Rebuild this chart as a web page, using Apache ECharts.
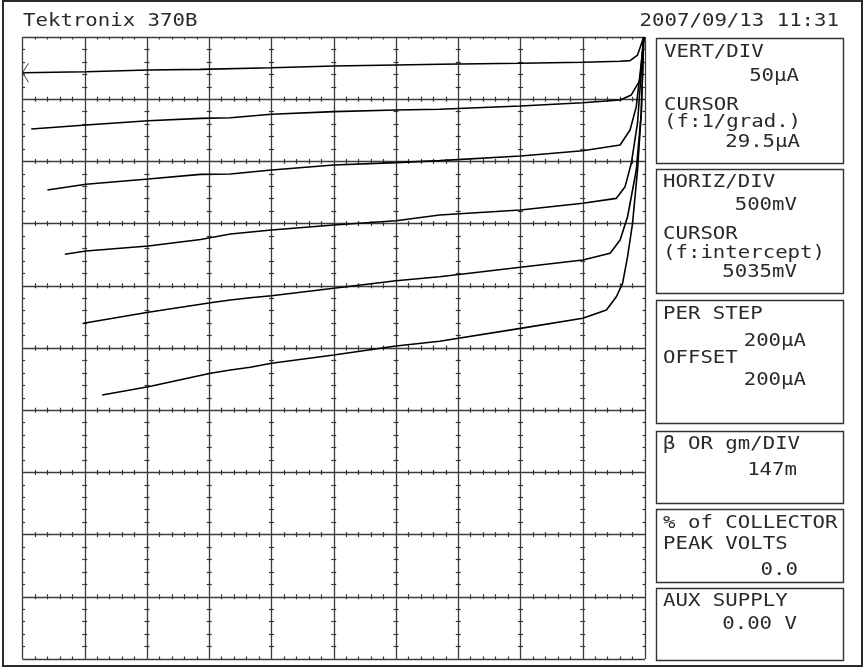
<!DOCTYPE html>
<html><head><meta charset="utf-8">
<script src="https://cdn.jsdelivr.net/npm/echarts@6/dist/echarts.min.js"></script>
<style>html,body{margin:0;padding:0;background:#fff}#c{width:864px;height:672px}</style>
</head><body><div id="c"></div>
<script>
const instrumentName = 'Tektronix 370B';
const timestamp = '2007/09/13 11:31';
// axis: horizontal in V (500 mV/div), vertical in µA (50 µA/div), 10 x 10 divisions
const xMin = 0, xMax = 5, xInterval = 0.5;
const yMin = 0, yMax = 500, yInterval = 50;

const curve1V = [0.00, 0.51, 1.01, 1.43, 2.00, 2.50, 3.00, 3.35, 4.00, 4.50, 4.80, 4.88, 4.94, 4.99];
const curve1I = [471.3, 472.1, 473.5, 474.0, 475.3, 476.7, 477.5, 478.1, 478.9, 479.7, 480.5, 481.0, 485.5, 500];

const curve2V = [0.07, 0.51, 1.01, 1.43, 1.67, 2.00, 2.50, 3.00, 3.35, 4.00, 4.50, 4.80, 4.89, 4.96, 4.99];
const curve2I = [426.0, 429.3, 432.7, 434.6, 435.1, 437.9, 440.0, 441.3, 441.9, 444.5, 447.2, 449.3, 453.4, 465.4, 500];

const curve3V = [0.20, 0.51, 1.01, 1.43, 1.67, 2.00, 2.50, 3.00, 3.35, 4.00, 4.50, 4.80, 4.88, 4.93, 4.97, 4.99];
const curve3I = [377.0, 381.6, 385.9, 389.6, 389.9, 393.1, 397.1, 399.0, 400.6, 404.3, 408.6, 413.2, 425.2, 444.0, 479.1, 500];

const curve4V = [0.34, 0.51, 1.01, 1.43, 1.67, 2.00, 2.50, 3.00, 3.35, 4.00, 4.50, 4.77, 4.84, 4.89, 4.94, 4.99];
const curve4I = [325.3, 328.0, 332.0, 337.2, 341.6, 344.8, 348.9, 352.3, 356.9, 360.9, 366.3, 370.3, 379.7, 398.5, 430.9, 500];

const curve5V = [0.49, 1.01, 1.51, 1.67, 1.83, 2.00, 2.50, 3.00, 3.35, 4.00, 4.50, 4.72, 4.80, 4.86, 4.93, 4.97, 4.99];
const curve5I = [269.9, 278.7, 286.4, 288.6, 290.4, 292.0, 298.0, 304.1, 307.3, 314.9, 320.7, 326.1, 336.8, 355.5, 393.1, 438.9, 500];

const curve6V = [0.64, 1.01, 1.51, 1.67, 1.83, 2.00, 2.50, 3.00, 3.35, 4.00, 4.50, 4.69, 4.77, 4.82, 4.86, 4.90, 4.94, 4.97, 4.99];
const curve6I = [212.2, 218.9, 229.7, 232.3, 234.5, 237.7, 244.4, 251.6, 255.4, 265.8, 273.9, 280.5, 291.2, 302.0, 323.4, 350.2, 393.1, 438.9, 500];

const cursorV = [0.0];
const cursorI = [471.3];

// readout panels
const panel1Text = ['VERT/DIV', '50µA', 'CURSOR', '(f:1/grad.)', '29.5µA'];
const panel2Text = ['HORIZ/DIV', '500mV', 'CURSOR', '(f:intercept)', '5035mV'];
const panel3Text = ['PER STEP', '200µA', 'OFFSET', '200µA'];
const panel4Text = ['β OR gm/DIV', '147m'];
const panel5Text = ['% of COLLECTOR', 'PEAK VOLTS', '0.0'];
const panel6Text = ['AUX SUPPLY', '0.00 V'];

// ---- layout ----
const G = {left: 22.5, top: 37, width: 622.5, height: 622};
const divW = G.width / 10, divH = G.height / 10;
const INK = '#2a2a2a', GRIDC = '#3c3c3c';
const FONT = {fontFamily: 'DejaVu Sans Mono', fontSize: 18};
const SX = 1.15;

function zip(a, b) { return a.map((v, i) => [v, b[i]]); }

function txt(s, x, y, align) {
  return {type: 'text', x: x, y: y, scaleX: SX, silent: true,
    style: {text: s, fill: INK, fontFamily: FONT.fontFamily, fontSize: FONT.fontSize,
      align: align, textAlign: align, verticalAlign: 'middle', textVerticalAlign: 'middle'}};
}

const panelLayout = [
  {texts: panel1Text, pos: [[664, 52.3, 'left'], [799, 76, 'right'], [664, 105.3, 'left'], [664, 122, 'left'], [800, 142, 'right']]},
  {texts: panel2Text, pos: [[663, 182.7, 'left'], [797, 205.3, 'right'], [663, 234.8, 'left'], [663, 253, 'left'], [797, 272.3, 'right']]},
  {texts: panel3Text, pos: [[663, 314.2, 'left'], [806, 341.4, 'right'], [663, 358.2, 'left'], [806, 380, 'right']]},
  {texts: panel4Text, pos: [[663, 444.3, 'left'], [797, 470.3, 'right']]},
  {texts: panel5Text, pos: [[663, 523.7, 'left'], [663, 544.7, 'left'], [798, 570.5, 'right']]},
  {texts: panel6Text, pos: [[663, 601.5, 'left'], [797, 624.5, 'right']]}
];
const boxes = [[656, 38, 187, 125], [656, 169, 187, 124], [656, 300, 187, 123], [656, 431, 187, 72], [656, 509, 187, 73], [656, 588, 187, 72]];

const graphics = [
  {type: 'rect', shape: {x: 3, y: 1, width: 859, height: 665}, style: {fill: 'none', stroke: INK, lineWidth: 2}, silent: true},
  txt(instrumentName, 23, 21.5, 'left'),
  txt(timestamp, 839, 21.5, 'right')
];
boxes.forEach(b => graphics.push({type: 'rect', shape: {x: b[0] + 0.5, y: b[1] + 0.5, width: b[2], height: b[3]},
  style: {fill: 'none', stroke: '#333', lineWidth: 1.4}, silent: true}));
panelLayout.forEach(p => p.texts.forEach((s, i) => graphics.push(txt(s, p.pos[i][0], p.pos[i][1], p.pos[i][2]))));

// ---- axes: main + tick-mark axes along every grid line ----
const tickStyle = {show: true, splitNumber: 5, length: 2.5, lineStyle: {color: '#333', width: 1.2}};
const xAxes = [{type: 'value', min: xMin, max: xMax, interval: xInterval,
  axisLine: {show: false}, axisTick: {show: false}, axisLabel: {show: false},
  splitLine: {show: true, lineStyle: {color: GRIDC, width: 1.3}}}];
const yAxes = [{type: 'value', min: yMin, max: yMax, interval: yInterval,
  axisLine: {show: false}, axisTick: {show: false}, axisLabel: {show: false},
  splitLine: {show: true, lineStyle: {color: GRIDC, width: 1.3}}}];
function tickAxis(extra) {
  return Object.assign({type: 'value', axisLine: {show: false, onZero: false}, axisLabel: {show: false},
    splitLine: {show: false}, minorTick: tickStyle}, extra);
}
for (let k = 0; k <= 10; k++) {
  // two tick directions per grid line (outer edges only inward)
  [false, true].forEach(inside => {
    if (k === 0 && !inside) return;
    if (k === 10 && inside) return;
    // horizontal grid line k (counted from bottom)
    xAxes.push(tickAxis({min: xMin, max: xMax, interval: xInterval, position: 'bottom', offset: -k * divH,
      axisTick: {show: false, inside: inside}}));
    // vertical grid line k (counted from left)
    yAxes.push(tickAxis({min: yMin, max: yMax, interval: yInterval, position: 'left', offset: -k * divW,
      axisTick: {show: false, inside: inside}}));
  });
}

const curves = [[curve1V, curve1I], [curve2V, curve2I], [curve3V, curve3I], [curve4V, curve4I], [curve5V, curve5I], [curve6V, curve6I]];
const series = curves.map((c, i) => ({
  type: 'line', name: 'step ' + (i + 1), data: zip(c[0], c[1]), showSymbol: false, smooth: false,
  xAxisIndex: 0, yAxisIndex: 0, lineStyle: {color: '#000', width: 1.6}, silent: true, z: 5
}));
series.push({type: 'scatter', name: 'cursor', data: zip(cursorV, cursorI), xAxisIndex: 0, yAxisIndex: 0,
  symbol: 'path://M10,0 L0,10 L10,20', symbolSize: [6, 19], symbolOffset: [3, 0],
  itemStyle: {color: 'none', borderColor: '#333', borderWidth: 1}, silent: true, z: 6});

const chart = echarts.init(document.getElementById('c'), null, {renderer: 'canvas'});
chart.setOption({
  animation: false,
  backgroundColor: '#fff',
  grid: {left: G.left, top: G.top, width: G.width, height: G.height, containLabel: false},
  xAxis: xAxes,
  yAxis: yAxes,
  series: series,
  graphic: graphics
});
</script></body></html>
